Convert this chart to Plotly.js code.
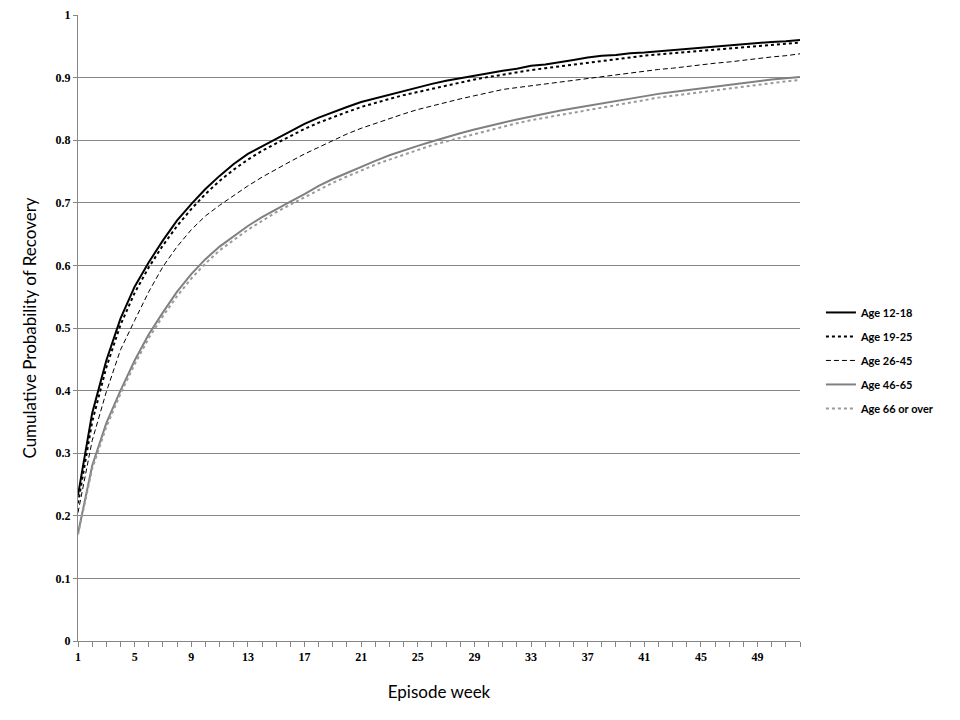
<!DOCTYPE html>
<html>
<head>
<meta charset="utf-8">
<script src="https://cdn.plot.ly/plotly-3.0.1.min.js"></script>
<style>html,body{margin:0;padding:0;background:#fff;}#chart{width:960px;height:720px;}</style>
</head>
<body>
<div id="chart"></div>
<script>
const weeks = [1,2,3,4,5,6,7,8,9,10,11,12,13,14,15,16,17,18,19,20,21,22,23,24,25,26,27,28,29,30,31,32,33,34,35,36,37,38,39,40,41,42,43,44,45,46,47,48,49,50,51,52];

const age1218 = [0.233,0.364,0.448,0.515,0.566,0.605,0.640,0.672,0.698,0.722,0.743,0.762,0.778,0.790,0.801,0.813,0.826,0.836,0.845,0.853,0.861,0.867,0.873,0.879,0.884,0.890,0.895,0.899,0.903,0.908,0.911,0.914,0.919,0.921,0.924,0.928,0.932,0.935,0.936,0.939,0.940,0.942,0.944,0.946,0.948,0.950,0.951,0.953,0.955,0.957,0.958,0.960];

const age1925 = [0.220,0.350,0.437,0.505,0.556,0.597,0.632,0.663,0.690,0.714,0.735,0.753,0.769,0.783,0.795,0.807,0.818,0.828,0.837,0.845,0.853,0.860,0.866,0.872,0.877,0.883,0.888,0.892,0.897,0.901,0.905,0.908,0.912,0.915,0.918,0.921,0.924,0.927,0.930,0.932,0.935,0.937,0.939,0.941,0.943,0.945,0.947,0.949,0.951,0.953,0.954,0.956];

const age2645 = [0.205,0.320,0.398,0.465,0.512,0.558,0.598,0.630,0.657,0.679,0.696,0.712,0.727,0.741,0.754,0.766,0.778,0.789,0.800,0.810,0.819,0.827,0.835,0.842,0.849,0.855,0.861,0.866,0.871,0.876,0.881,0.884,0.887,0.890,0.892,0.895,0.898,0.901,0.904,0.907,0.910,0.913,0.915,0.918,0.920,0.923,0.925,0.928,0.930,0.933,0.935,0.938];

const age4665 = [0.172,0.280,0.348,0.400,0.448,0.490,0.525,0.558,0.586,0.610,0.630,0.647,0.663,0.677,0.690,0.702,0.714,0.727,0.738,0.748,0.758,0.767,0.776,0.784,0.791,0.798,0.805,0.811,0.817,0.823,0.828,0.833,0.838,0.843,0.847,0.851,0.855,0.859,0.863,0.867,0.870,0.874,0.877,0.880,0.883,0.886,0.889,0.892,0.895,0.897,0.899,0.901];

const age66 = [0.170,0.275,0.342,0.395,0.442,0.484,0.519,0.551,0.579,0.603,0.624,0.641,0.657,0.671,0.685,0.697,0.709,0.721,0.732,0.742,0.752,0.761,0.769,0.777,0.785,0.792,0.798,0.804,0.810,0.816,0.821,0.827,0.832,0.836,0.841,0.845,0.849,0.853,0.857,0.861,0.864,0.868,0.871,0.874,0.877,0.880,0.883,0.886,0.889,0.891,0.894,0.896];

const seriesNames = ["Age 12-18","Age 19-25","Age 26-45","Age 46-65","Age 66 or over"];
const xTickVals = [1,5,9,13,17,21,25,29,33,37,41,45,49];

const seriesData = [age1218, age1925, age2645, age4665, age66];
const styles = [
  {color:'#000000', width:2, dash:'solid'},
  {color:'#000000', width:2, dash:'dot'},
  {color:'#000000', width:1, dash:'5px,3px'},
  {color:'#808080', width:2, dash:'solid'},
  {color:'#9a9a9a', width:2, dash:'dot'}
];

const traces = seriesData.map((ys, i) => ({
  type:'scatter', mode:'lines', x:weeks, y:ys, name:seriesNames[i],
  legendgroup:'g'+i, line:styles[i]
}));

const gridCol = '#878787';
const layout = {
  width:960, height:720,
  margin:{l:78, r:160, t:15, b:79},
  paper_bgcolor:'#fff', plot_bgcolor:'#fff',
  showlegend:true,
  legend:{x:1.029, xanchor:'left', y:0.548, yanchor:'top', tracegroupgap:5,
          font:{family:'Lato', size:11, color:'#000', weight:'bold'}, bgcolor:'rgba(0,0,0,0)'},
  xaxis:{range:[1,52], tickvals:xTickVals, ticktext:xTickVals.map(String),
         showgrid:false, zeroline:false, showline:true, linecolor:gridCol, linewidth:1,
         ticks:'outside', ticklen:5, tickcolor:gridCol,
         minor:{dtick:1, tick0:1, ticks:'outside', ticklen:5, tickcolor:gridCol, showgrid:false},
         tickfont:{family:'Liberation Serif', size:12, color:'#000', weight:'bold'},
         title:{text:'Episode week', font:{family:'Lato', size:17, color:'#000'}, standoff:22}},
  yaxis:{range:[0,1], dtick:0.1, tick0:0, showgrid:true, gridcolor:gridCol, gridwidth:1,
         zeroline:false, showline:true, linecolor:gridCol, linewidth:1,
         ticks:'outside', ticklen:4, tickcolor:gridCol,
         tickfont:{family:'Liberation Serif', size:12, color:'#000', weight:'bold'},
         title:{text:'Cumulative Probability of Recovery', font:{family:'Lato', size:17, color:'#000'}, standoff:14}}
};

Plotly.newPlot('chart', traces, layout, {displayModeBar:false, staticPlot:true});
</script>
</body>
</html>
